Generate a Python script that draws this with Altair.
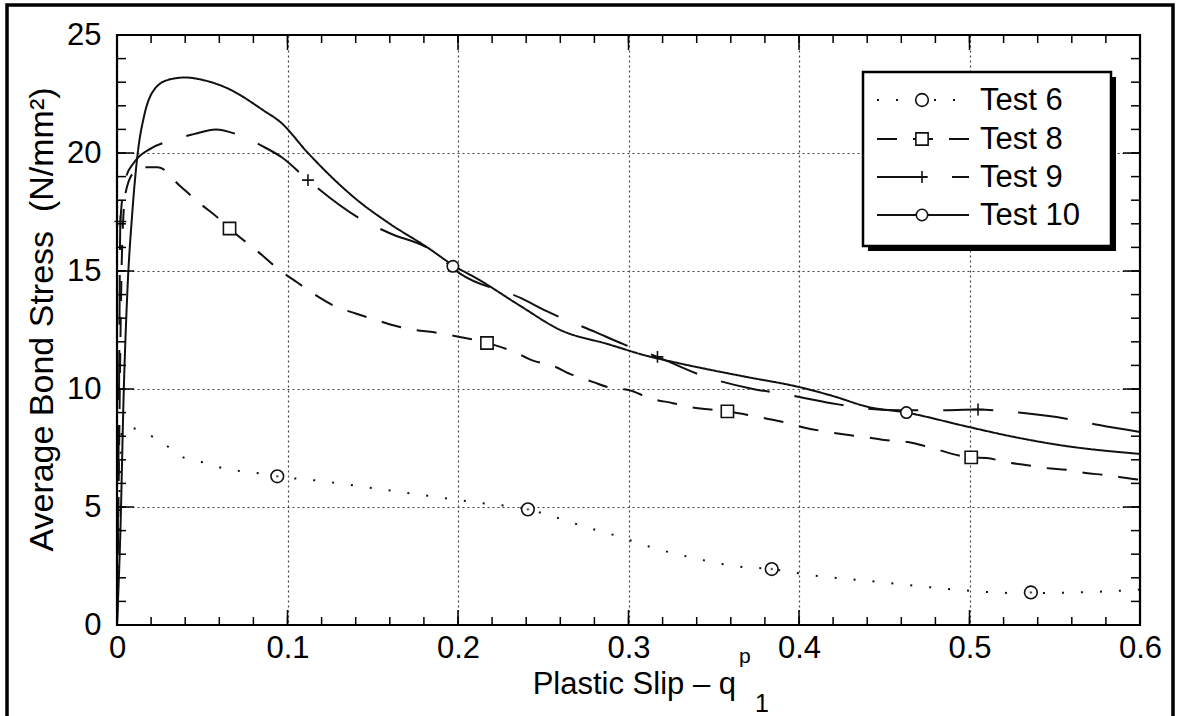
import altair as alt
import pandas as pd

FONT = "Liberation Sans"
W, H = 1023, 590

series_names = ["Test 6", "Test 8", "Test 9", "Test 10"]

# ---- curve values ----
t6_x = [0, 0.001, 0.002, 0.003, 0.004, 0.015, 0.027, 0.039, 0.05, 0.062, 0.074, 0.086, 0.094,
        0.12, 0.15, 0.18, 0.21, 0.241, 0.26, 0.275, 0.292, 0.315, 0.338, 0.362, 0.384, 0.408,
        0.43, 0.453, 0.477, 0.5, 0.524, 0.548, 0.572, 0.6]
t6_y = [0, 4, 7, 8.3, 8.4, 8.2, 7.7, 7.1, 6.9, 6.65, 6.5, 6.4, 6.3,
        6.1, 5.8, 5.5, 5.2, 4.9, 4.5, 4.15, 3.8, 3.26, 2.84, 2.5, 2.37, 2.1,
        1.94, 1.78, 1.6, 1.45, 1.36, 1.36, 1.4, 1.5]

t8_x = [0, 0.001, 0.002, 0.003, 0.005, 0.01, 0.015, 0.024, 0.037, 0.048, 0.06, 0.066, 0.083,
        0.096, 0.106, 0.116, 0.128, 0.14, 0.153, 0.162, 0.175, 0.186, 0.198, 0.217, 0.233,
        0.244, 0.255, 0.267, 0.279, 0.29, 0.3, 0.313, 0.326, 0.336, 0.358, 0.37, 0.382, 0.393,
        0.404, 0.417, 0.429, 0.438, 0.45, 0.464, 0.474, 0.501, 0.51, 0.521, 0.533, 0.545,
        0.558, 0.568, 0.579, 0.592, 0.6]
t8_y = [0, 6, 12, 16, 18.3, 19.2, 19.4, 19.4, 18.6, 17.9, 17.2, 16.8, 15.8,
        15.0, 14.5, 14.0, 13.5, 13.2, 12.9, 12.7, 12.5, 12.4, 12.25, 11.95, 11.57,
        11.2, 11.0, 10.6, 10.3, 10.04, 9.96, 9.6, 9.4, 9.24, 9.05, 8.9, 8.73, 8.56,
        8.35, 8.18, 8.05, 7.97, 7.84, 7.75, 7.58, 7.1, 7.08, 6.9, 6.78, 6.65,
        6.57, 6.44, 6.36, 6.23, 6.15]

t9_x = [0, 0.001, 0.002, 0.005, 0.01, 0.02, 0.03, 0.045, 0.058, 0.07, 0.085, 0.097, 0.112,
        0.143, 0.16, 0.184, 0.201, 0.237, 0.252, 0.281, 0.297, 0.317, 0.342, 0.373, 0.39,
        0.419, 0.436, 0.46, 0.48, 0.505, 0.529, 0.56, 0.576, 0.6]
t9_y = [0, 8, 17.1, 18.9, 19.6, 20.2, 20.5, 20.8, 21.0, 20.8, 20.3, 19.8, 18.85,
        17.2, 16.6, 15.9, 14.9, 13.85, 13.3, 12.4, 11.9, 11.36, 10.6, 10.0, 9.8,
        9.4, 9.2, 9.1, 9.1, 9.13, 9.0, 8.7, 8.47, 8.18]

t10_x = [0, 0.002, 0.004, 0.006, 0.009, 0.012, 0.016, 0.021, 0.03, 0.04, 0.05, 0.066, 0.086,
         0.096, 0.112, 0.141, 0.16, 0.182, 0.197, 0.213, 0.237, 0.26, 0.288, 0.311, 0.329,
         0.342, 0.37, 0.399, 0.42, 0.44, 0.463, 0.499, 0.526, 0.555, 0.6]
t10_y = [0, 4, 10, 14, 17.5, 19.9, 21.6, 22.6, 23.1, 23.2, 23.1, 22.7, 21.8,
         21.3, 20.0, 18.0, 17.0, 16.0, 15.25, 14.6, 13.5, 12.5, 11.9, 11.4, 11.1,
         10.9, 10.5, 10.1, 9.7, 9.25, 9.0, 8.4, 7.97, 7.6, 7.25]

# ---- marker positions ----
m6_x = [0.094, 0.241, 0.384, 0.536]
m6_y = [6.3, 4.9, 2.37, 1.38]
m8_x = [0.066, 0.217, 0.358, 0.501]
m8_y = [16.8, 11.95, 9.05, 7.1]
m9_x = [0.002, 0.112, 0.317, 0.505]
m9_y = [17.1, 18.85, 11.36, 9.13]
m10_x = [0.197, 0.463]
m10_y = [15.2, 9.0]

# ---- axis ticks / labels ----
x_major = [0, 0.1, 0.2, 0.3, 0.4, 0.5, 0.6]
y_major = [0, 5, 10, 15, 20, 25]
x_minor = [round(i * 0.02, 2) for i in range(31)]
y_minor = list(range(0, 26))

y_title = "Average Bond Stress \u00a0(N/mm²)"
x_title_main = "Plastic Slip – q"
x_title_sup = "p"
x_title_sub = "1"

# ---- build tables ----
rows = []
for name, xs, ys in [("Test 6", t6_x, t6_y), ("Test 8", t8_x, t8_y),
                     ("Test 9", t9_x, t9_y), ("Test 10", t10_x, t10_y)]:
    for i, (a, b) in enumerate(zip(xs, ys)):
        rows.append({"series": name, "x": a, "y": b, "i": i})
lines_df = pd.DataFrame(rows)

mrows = []
for name, xs, ys in [("Test 6", m6_x, m6_y), ("Test 8", m8_x, m8_y),
                     ("Test 9", m9_x, m9_y), ("Test 10", m10_x, m10_y)]:
    for a, b in zip(xs, ys):
        mrows.append({"series": name, "x": a, "y": b})
marks_df = pd.DataFrame(mrows)
dots_df = marks_df[marks_df.series == "Test 6"]

xscale = alt.Scale(domain=[0, 0.6], nice=False, zero=False)
yscale = alt.Scale(domain=[0, 25], nice=False, zero=False)

xaxis = alt.Axis(values=x_major, format="~g", labelFont=FONT, labelFontSize=31,
                 labelColor="black", labelPadding=8, labelFlush=False, ticks=False,
                 domain=False, grid=True, gridDash=[2, 3], gridColor="#444",
                 gridWidth=1.2, title=None)
yaxis = alt.Axis(values=y_major, labelFont=FONT, labelFontSize=31, labelColor="black",
                 labelPadding=16, ticks=False, domain=False, grid=True,
                 gridDash=[2, 3], gridColor="#444", gridWidth=1.2,
                 title=y_title, titleFont=FONT, titleFontSize=34,
                 titleFontWeight="normal", titleColor="black", titleAngle=270,
                 titleX=-58, titleY=284, titleBaseline="bottom", titleAlign="center")


def X(field="x"):
    return alt.X(f"{field}:Q", scale=xscale, axis=xaxis)


def Y(field="y"):
    return alt.Y(f"{field}:Q", scale=yscale, axis=yaxis)


dash_scale = alt.Scale(domain=series_names, range=[[2, 17], [20, 16], [50, 25], [1, 0]])
shape_scale = alt.Scale(domain=series_names,
                        range=["circle", "square", "M-1,0L1,0M0,-1L0,1", "circle"])
size_scale = alt.Scale(domain=series_names, range=[160, 130, 230, 60])

lines = alt.Chart(lines_df).mark_line(color="#111", strokeWidth=2, interpolate="monotone").encode(
    x=X(), y=Y(),
    strokeDash=alt.StrokeDash("series:N", scale=dash_scale, legend=None),
    detail="series:N", order="i:Q")

markers = alt.Chart(marks_df).mark_point(color="#111", strokeWidth=1.6, filled=False,
                                         fill="white", fillOpacity=1).encode(
    x=X(), y=Y(),
    shape=alt.Shape("series:N", scale=shape_scale, legend=None),
    size=alt.Size("series:N", scale=size_scale, legend=None))

dots = alt.Chart(dots_df).mark_point(color="#111", filled=True, size=6, shape="circle").encode(
    x=X(), y=Y())

# inward ticks on all four sides
xmin_df = pd.DataFrame({"x": x_minor})
xmaj_df = pd.DataFrame({"x": x_major})
ymin_df = pd.DataFrame({"y": y_minor})
ymaj_df = pd.DataFrame({"y": y_major})
tick_style = dict(color="black", strokeWidth=1.5)
ticks = [
    alt.Chart(ymin_df).mark_rule(**tick_style).encode(y=Y(), x=alt.value(0), x2=alt.value(9)),
    alt.Chart(ymin_df).mark_rule(**tick_style).encode(y=Y(), x=alt.value(W - 9), x2=alt.value(W)),
    alt.Chart(ymaj_df).mark_rule(**tick_style).encode(y=Y(), x=alt.value(0), x2=alt.value(17)),
    alt.Chart(ymaj_df).mark_rule(**tick_style).encode(y=Y(), x=alt.value(W - 17), x2=alt.value(W)),
    alt.Chart(xmin_df).mark_rule(**tick_style).encode(x=X(), y=alt.value(H - 8), y2=alt.value(H)),
    alt.Chart(xmin_df).mark_rule(**tick_style).encode(x=X(), y=alt.value(0), y2=alt.value(8)),
    alt.Chart(xmaj_df).mark_rule(**tick_style).encode(x=X(), y=alt.value(H - 15), y2=alt.value(H)),
    alt.Chart(xmaj_df).mark_rule(**tick_style).encode(x=X(), y=alt.value(0), y2=alt.value(15)),
]

frame = alt.Chart(pd.DataFrame({"a": [0]})).mark_rect(
    filled=False, stroke="black", strokeWidth=2.2).encode(
    x=alt.value(0), x2=alt.value(W), y=alt.value(0), y2=alt.value(H))

# legend box with drop shadow
one = pd.DataFrame({"a": [0]})
shadow = alt.Chart(one).mark_rect(color="black").encode(
    x=alt.value(751), x2=alt.value(999), y=alt.value(42), y2=alt.value(216))
box = alt.Chart(one).mark_rect(fill="white", stroke="black", strokeWidth=2.5).encode(
    x=alt.value(746), x2=alt.value(994), y=alt.value(37), y2=alt.value(211))

legend_rows_y = [65, 104, 142, 180]
legend_layers = []
for name, ly in zip(series_names, legend_rows_y):
    d = pd.DataFrame({"series": [name]})
    legend_layers.append(alt.Chart(d).mark_rule(color="#111", strokeWidth=2).encode(
        x=alt.value(760), x2=alt.value(852), y=alt.value(ly),
        strokeDash=alt.StrokeDash("series:N", scale=dash_scale, legend=None)))
    legend_layers.append(alt.Chart(d).mark_point(color="#111", strokeWidth=1.6, filled=False,
                                                 fill="white", fillOpacity=1).encode(
        x=alt.value(805), y=alt.value(ly),
        shape=alt.Shape("series:N", scale=shape_scale, legend=None),
        size=alt.Size("series:N", scale=size_scale, legend=None)))
    legend_layers.append(alt.Chart(d).mark_text(font=FONT, fontSize=31, align="left",
                                                baseline="middle", color="black").encode(
        x=alt.value(863), y=alt.value(ly + 1), text="series:N"))

# x-axis title with superscript / subscript
xt_main = alt.Chart(pd.DataFrame({"t": [x_title_main]})).mark_text(
    font=FONT, fontSize=31, align="right", baseline="alphabetic", color="black").encode(
    x=alt.value(619), y=alt.value(659), text="t:N")
xt_sup = alt.Chart(pd.DataFrame({"t": [x_title_sup]})).mark_text(
    font=FONT, fontSize=21, align="left", baseline="alphabetic", color="black").encode(
    x=alt.value(622), y=alt.value(628), text="t:N")
xt_sub = alt.Chart(pd.DataFrame({"t": [x_title_sub]})).mark_text(
    font=FONT, fontSize=25, align="left", baseline="alphabetic", color="black").encode(
    x=alt.value(638), y=alt.value(677), text="t:N")

border = alt.Chart(one).mark_rect(filled=False, stroke="black", strokeWidth=3.5).encode(
    x=alt.value(-110), x2=alt.value(1056), y=alt.value(-30), y2=alt.value(720))

chart = alt.layer(
    lines, markers, dots, *ticks, frame, shadow, box, *legend_layers,
    xt_main, xt_sup, xt_sub, border
).properties(
    width=W, height=H,
    autosize=alt.AutoSizeParams(type="none"),
    padding={"left": 117, "top": 35, "right": 37, "bottom": 91},
    background="white",
).configure_view(stroke=None)

chart.save("out.html", embed_options={"renderer": "svg", "actions": False})
